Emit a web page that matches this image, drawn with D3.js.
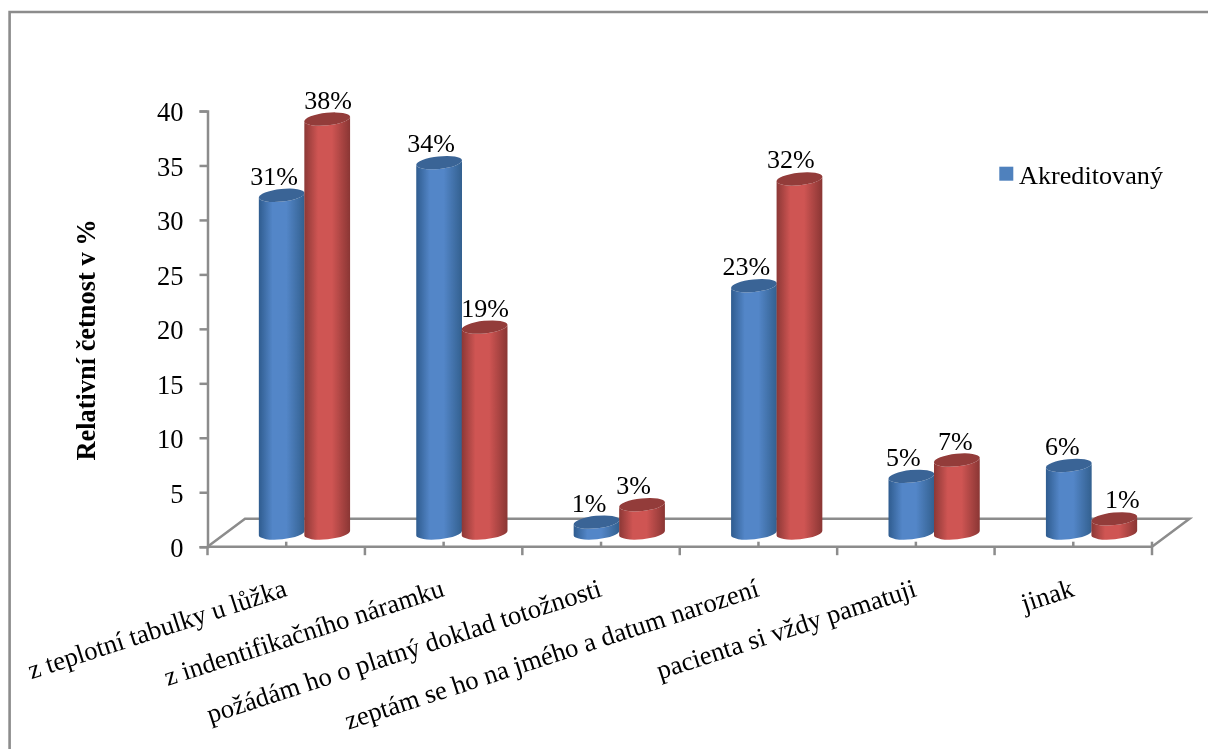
<!DOCTYPE html>
<html><head><meta charset="utf-8">
<script src="https://cdn.jsdelivr.net/npm/d3@7/dist/d3.min.js"></script>
<style>html,body{margin:0;padding:0;background:#fff;overflow:hidden}svg{display:block;filter:blur(0.35px)}text{font-family:"Liberation Serif",serif;fill:#000}</style>
</head><body><svg id="c" width="1208" height="749"></svg>
<script>
const categories = ["z teplotní tabulky u lůžka","z indentifikačního náramku","požádám ho o platný doklad totožnosti","zeptám se ho na jmého a datum narození","pacienta si vždy pamatuji","jinak"];
const akreditovany = [31,34,1,22.7,5.2,6.2];
const druhaSerie = [38,18.9,2.6,32.5,6.7,1.3];
const akreditovanyLabels = ["31%","34%","1%","23%","5%","6%"];
const druhaSerieLabels = ["38%","19%","3%","32%","7%","1%"];
const yTicks = [0,5,10,15,20,25,30,35,40];
const legendLabel = "Akreditovaný";

const svg = d3.select("#c");
const GREY = "#8c8c8c";
const defs = svg.append("defs");
function grad(id, edgeL, mid, edgeR){
  const g = defs.append("linearGradient").attr("id",id).attr("x1",0).attr("x2",1).attr("y1",0).attr("y2",0);
  [[0,edgeL],[.3,mid],[.6,mid],[1,edgeR]].forEach(s=>g.append("stop").attr("offset",s[0]).attr("stop-color",s[1]));
}
grad("gb","#2f5c8f","#5386c8","#33608f");
grad("gr","#8c3836","#cf5553","#8a3634");

// frame
svg.append("path").attr("d","M9.6,749V12H1208").attr("fill","none").attr("stroke",GREY).attr("stroke-width",2.6);

const y = d3.scaleLinear().domain([0,40]).range([546.7,111]);
const x = d3.scaleBand().domain(categories).range([207.5,1152]);
const DEPTH_X = 37.5, DEPTH_Y = 28, BASE_LIFT = 13.7, BAR_W = 46, RY = 6.3, TILT = -6;
const STROKE = 2.5;

// floor
svg.append("path").attr("d",`M${x.range()[0]},${y(0)}L${x.range()[0]+DEPTH_X},${y(0)-DEPTH_Y}H${x.range()[1]+DEPTH_X}L${x.range()[1]},${y(0)}`)
  .attr("fill","none").attr("stroke",GREY).attr("stroke-width",STROKE);

// y axis
const ya = svg.append("g").attr("transform",`translate(${x.range()[0]},0)`)
  .call(d3.axisLeft(y).tickValues(yTicks).tickSize(8).tickSizeOuter(8).tickPadding(16));
ya.selectAll("path,line").attr("stroke",GREY).attr("stroke-width",STROKE);
ya.selectAll("text").attr("font-size",26.5).attr("font-family","Liberation Serif").attr("fill","#000").attr("dy","0.37em");

// x axis
const xa = svg.append("g").attr("transform",`translate(0,${y(0)})`);
xa.append("line").attr("x1",x.range()[0]).attr("x2",x.range()[1]).attr("stroke",GREY).attr("stroke-width",STROKE);
d3.range(categories.length+1).forEach(i=>{
  const px = x.range()[0]+i*x.step();
  xa.append("line").attr("x1",px).attr("x2",px).attr("y1",i==categories.length?-5:0).attr("y2",8.5).attr("stroke",GREY).attr("stroke-width",STROKE);
});
categories.forEach(c=>{
  const px = x(c)+x.bandwidth()/2;
  xa.append("line").attr("x1",px).attr("x2",px).attr("y1",-5).attr("y2",0).attr("stroke",GREY).attr("stroke-width",STROKE);
  svg.append("text").attr("transform",`translate(${px+2},${y(0)+49}) rotate(-18)`)
    .attr("text-anchor","end").attr("font-size",26.6).text(c);
});

function cyl(g, cx, v, fill, topFill){
  const yb = y(0)-BASE_LIFT, yt = y(v)-BASE_LIFT;
  const rx = BAR_W/2, t = TILT*Math.PI/180;
  const dx = rx*Math.cos(t), dy = rx*Math.sin(t);
  g.append("path").attr("fill",`url(#${fill})`).attr("d",
    `M${cx-dx},${yt-dy}L${cx-dx},${yb-dy}A${rx},${RY} ${TILT} 0 0 ${cx+dx},${yb+dy}L${cx+dx},${yt+dy}A${rx},${RY} ${TILT} 0 1 ${cx-dx},${yt-dy}Z`);
  g.append("ellipse").attr("cx",0).attr("cy",0).attr("rx",rx).attr("ry",RY)
    .attr("transform",`translate(${cx},${yt}) rotate(${TILT})`).attr("fill",topFill);
}
const labelDx = [[-7.5,1],[-8,0.5],[-7.5,-8.5],[-7.5,-8.5],[-8,-1.5],[-6.5,8]];
const LABEL_DY = -10.5;
categories.forEach((c,i)=>{
  const cen = x(c)+x.bandwidth()/2;
  const g = svg.append("g");
  cyl(g,cen-4.5,akreditovany[i],"gb","#3a6496");
  cyl(g,cen+41,druhaSerie[i],"gr","#933c3a");
});
categories.forEach((c,i)=>{
  const cen = x(c)+x.bandwidth()/2;
  [[akreditovany[i],-4.5,akreditovanyLabels[i]],[druhaSerie[i],41,druhaSerieLabels[i]]].forEach((s,k)=>{
    svg.append("text").attr("x",cen+s[1]+labelDx[i][k]).attr("y",y(s[0])-BASE_LIFT+LABEL_DY)
      .attr("text-anchor","middle").attr("font-size",26).text(s[2]);
  });
});

// y title
svg.append("text").attr("transform","translate(95,340) rotate(-90)").attr("text-anchor","middle")
  .attr("font-size",26.4).attr("font-weight","bold").text("Relativní četnost v %");

// legend
svg.append("rect").attr("x",999.3).attr("y",166.7).attr("width",14).attr("height",14).attr("fill","#4f81bd");
svg.append("text").attr("x",1019).attr("y",184).attr("font-size",26.2).text(legendLabel);
</script></body></html>
